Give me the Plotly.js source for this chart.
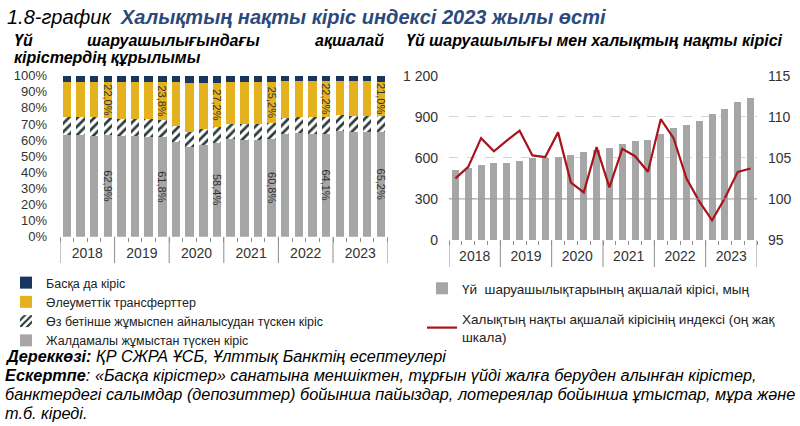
<!DOCTYPE html>
<html>
<head>
<meta charset="utf-8">
<script src="https://cdn.plot.ly/plotly-3.0.1.min.js"></script>
<style>
html,body{margin:0;padding:0;background:#fff;}
#chart{width:800px;height:426px;}
</style>
</head>
<body>
<div id="chart"></div>
<script>
// ---- Data ----
const years = ['2018','2019','2020','2021','2022','2023'];
const quarters = ['I','II','III','IV'];
const pctTicks = [0,10,20,30,40,50,60,70,80,90,100];

// Left panel: structure of household cash income, % (quarterly)
const wages     = [63.2,63.4,62.6,62.9, 62.5,62.6,62.2,61.8, 58.8,55.6,57.0,58.4, 60.6,60.2,60.2,60.8, 64.0,64.3,63.8,64.1, 65.5,65.0,64.8,65.2];
const selfEmp   = [11.3,11.0,11.5,11.0, 10.8,10.6,10.8,10.5,  9.7, 9.4, 9.6, 9.8,  9.6, 9.8,10.0,10.0, 10.0,10.0,10.5,10.4,  9.8,10.0,10.3,10.0];
const transfers = [21.5,21.6,21.8,22.0, 22.7,22.8,23.0,23.8, 27.5,30.6,28.8,27.2, 25.9,26.0,25.8,25.2, 22.8,22.5,22.5,22.2, 21.7,21.5,21.4,21.0];
const other     = [ 4.0, 4.0, 4.1, 4.1,  4.0, 4.0, 4.0, 3.9,  4.0, 4.4, 4.6, 4.6,  3.9, 4.0, 4.0, 4.0,  3.2, 3.2, 3.2, 3.3,  3.0, 3.5, 3.5, 3.8];

// Right panel: household cash income (thousand tenge) and real income index (right scale)
const income    = [511,523,545,560, 565,579,599,601, 604,620,643,655, 674,702,723,734, 776,818,842,867, 921,959,1010,1034];
const realIndex = [102.5,103.9,107.4,105.8, 107.1,108.3,105.3,105.1, 108.1,102.0,100.8,106.3, 101.4,106.1,105.2,103.3, 109.7,107.4,102.5,99.7, 97.4,100.1,103.3,103.7];

const names = {
  wages: 'Жалдамалы жұмыстан түскен кіріс',
  selfEmp: 'Өз бетінше жұмыспен айналысудан түскен кіріс',
  transfers: 'Әлеуметтік трансферттер',
  other: 'Басқа да кіріс',
  income: 'Үй  шаруашылықтарының ақшалай кірісі, мың',
  realIndex: 'Халықтың нақты ақшалай кірісінің индексі (оң жақ<br>шкала)'
};

// ---- helpers ----
const W = 800, H = 426;
const px = x => x / W;
const py = y => 1 - y / H;
const idx = wages.map((_, i) => i);               // quarter serial positions
const fmt = v => v.toFixed(1).replace('.', ',') + '%';
const q4Label = arr => arr.map((v, i) => (i % 4 === 3 ? fmt(v) : ''));
const yearCenters = years.map((_, k) => k * quarters.length + (quarters.length - 1) / 2);
const boundaries = years.map((_, k) => k * quarters.length - 0.5).concat([years.length * quarters.length - 0.5]);

const NARROW = '"Liberation Sans Narrow", "Arial Narrow", "Liberation Sans", Arial, sans-serif';
const SANS = '"Liberation Sans", Arial, sans-serif';

const C_NAVY = '#17375e', C_YEL = '#e5b21f', C_GRAY = '#a6a6a6', C_RED = '#a8141c';

const lblFont = {family: SANS, size: 11, color: '#333'};

const traces = [
  {type:'bar', x: idx, y: wages, name: names.wages, xaxis:'x', yaxis:'y', legend:'legend',
   marker:{color:C_GRAY}, text:q4Label(wages), textposition:'inside', insidetextanchor:'middle',
   textangle:90, constraintext:'none', textfont:lblFont, hoverinfo:'skip'},
  {type:'bar', x: idx, y: selfEmp, name: names.selfEmp, xaxis:'x', yaxis:'y', legend:'legend',
   marker:{color:'#ffffff', pattern:{shape:'/', fgcolor:'#2d3b3b', bgcolor:'#ffffff', size:6, solidity:0.45}},
   hoverinfo:'skip'},
  {type:'bar', x: idx, y: transfers, name: names.transfers, xaxis:'x', yaxis:'y', legend:'legend',
   marker:{color:C_YEL}, text:q4Label(transfers), textposition:'inside', insidetextanchor:'middle',
   textangle:90, constraintext:'none', textfont:lblFont, hoverinfo:'skip'},
  {type:'bar', x: idx, y: other, name: names.other, xaxis:'x', yaxis:'y', legend:'legend',
   marker:{color:C_NAVY}, hoverinfo:'skip'},
  {type:'bar', x: idx, y: income, name: names.income, xaxis:'x2', yaxis:'y2', legend:'legend2',
   legendgroup:'g1', marker:{color:C_GRAY}, width:0.55, hoverinfo:'skip'},
  {type:'scatter', mode:'lines', x: idx, y: realIndex, name: names.realIndex, xaxis:'x2', yaxis:'y3',
   legend:'legend2', legendgroup:'g2', line:{color:C_RED, width:2.2}, hoverinfo:'skip'}
];

const tickFont = {family: SANS, size: 13, color: '#333'};
const yearFont = {family: SANS, size: 14, color: '#333'};

const xCommon = {
  range:[-0.5, 23.5], tickmode:'array', tickvals: yearCenters, ticktext: years,
  ticks:'', showgrid:false, zeroline:false, showline:false, tickfont: yearFont, ticklabelstandoff: 6,
  minor:{ticks:'outside', tick0:-0.5, dtick:1, ticklen:4, tickcolor:'#8c8c8c', tickwidth:1, showgrid:false}
};

const shapes = [];
boundaries.forEach(b => {
  shapes.push({type:'line', xref:'x', yref:'paper', x0:b, x1:b, y0:py(236.7), y1:py(263), line:{color:'#8c8c8c', width:1}});
  shapes.push({type:'line', xref:'x2', yref:'paper', x0:b, x1:b, y0:py(240), y1:py(267), line:{color:'#8c8c8c', width:1}});
});
// right-scale reference line at index value 100
shapes.push({type:'line', xref:'x2 domain', yref:'y3', x0:0, x1:1, y0:100, y1:100, line:{color:'#9a9a9a', width:1}});

const ann = (text, x, y, size, opts) => Object.assign({
  text, xref:'paper', yref:'paper', x:px(x), y:py(y), xanchor:'left', yanchor:'middle',
  showarrow:false, font:{family:NARROW, size, color:'#000'}
}, opts || {});

const annotations = [
  ann('<i>1.8-график</i>', 5, 17, 20),
  ann('<b><i>Халықтың нақты кіріс индексі 2023 жылы өсті</i></b>', 118, 17, 20, {font:{family:NARROW, size:20, color:'#2b4a7b'}}),
  ann('<b><i>Үй</i></b>', 12, 41, 16),
  ann('<b><i>шаруашылығындағы</i></b>', 85, 41, 16),
  ann('<b><i>ақшалай</i></b>', 386, 41, 16, {xanchor:'right'}),
  ann('<b><i>кірістердің құрылымы</i></b>', 12, 58, 16),
  ann('<b><i>Үй шаруашылығы мен халықтың нақты кірісі</i></b>', 404, 41, 16),
  ann('<b><i>Дереккөзі:</i></b><i> ҚР СЖРА ҰСБ, Ұлттық Банктің есептеулері</i>', 3, 356, 16.3),
  ann('<b><i>Ескертпе</i></b><i>: «Басқа кірістер» санатына меншіктен, тұрғын үйді жалға беруден алынған кірістер,</i>', 3, 375, 16.3),
  ann('<i>банктердегі салымдар (депозиттер) бойынша пайыздар, лотереялар бойынша ұтыстар, мұра және</i>', 3, 394, 16.3),
  ann('<i>т.б. кіреді.</i>', 3, 413, 16.3)
];

const layout = {
  width: W, height: H, margin:{l:0, r:0, t:0, b:0},
  paper_bgcolor:'#fff', plot_bgcolor:'rgba(0,0,0,0)',
  barmode:'stack', bargap:0.38, separators:', ',
  showlegend:true,
  xaxis: Object.assign({}, xCommon, {domain:[px(60), px(387.6)], anchor:'y'}),
  yaxis: {domain:[py(236.7), py(75.7)], range:[0,100], tickmode:'array', tickvals:pctTicks,
          ticktext: pctTicks.map(v => v + '%'), showgrid:false, zeroline:false, showline:false, ticks:'',
          tickfont:tickFont, ticklabelstandoff: 12, anchor:'x'},
  xaxis2: Object.assign({}, xCommon, {domain:[px(449), px(757)], anchor:'y2'}),
  yaxis2: {domain:[py(240), py(75.7)], range:[0,1200], dtick:300, tick0:0, separatethousands:true,
           showgrid:true, gridcolor:'#d4d4d4', griddash:'dash', gridwidth:1, zeroline:false, showline:false,
           ticks:'', tickfont:{family:SANS, size:14, color:'#333'}, ticklabelstandoff: 10, anchor:'x2'},
  yaxis3: {overlaying:'y2', side:'right', range:[95,115], dtick:5, tick0:95, showgrid:false, zeroline:false,
           showline:false, ticks:'', tickfont:{family:SANS, size:14, color:'#333'}, ticklabelstandoff: 10, anchor:'x2'},
  legend: {x:px(6), y:py(268), xanchor:'left', yanchor:'top', traceorder:'reversed', bgcolor:'rgba(0,0,0,0)',
           font:{family:NARROW, size:12.5, color:'#222'}, itemwidth:30, tracegroupgap:0},
  legend2: {x:px(422), y:py(273), xanchor:'left', yanchor:'top', traceorder:'grouped', tracegroupgap:10,
            bgcolor:'rgba(0,0,0,0)', font:{family:NARROW, size:13.5, color:'#222'}, itemwidth:30},
  shapes, annotations
};

Plotly.newPlot('chart', traces, layout, {displayModeBar:false, responsive:false, staticPlot:true});
</script>
</body>
</html>
